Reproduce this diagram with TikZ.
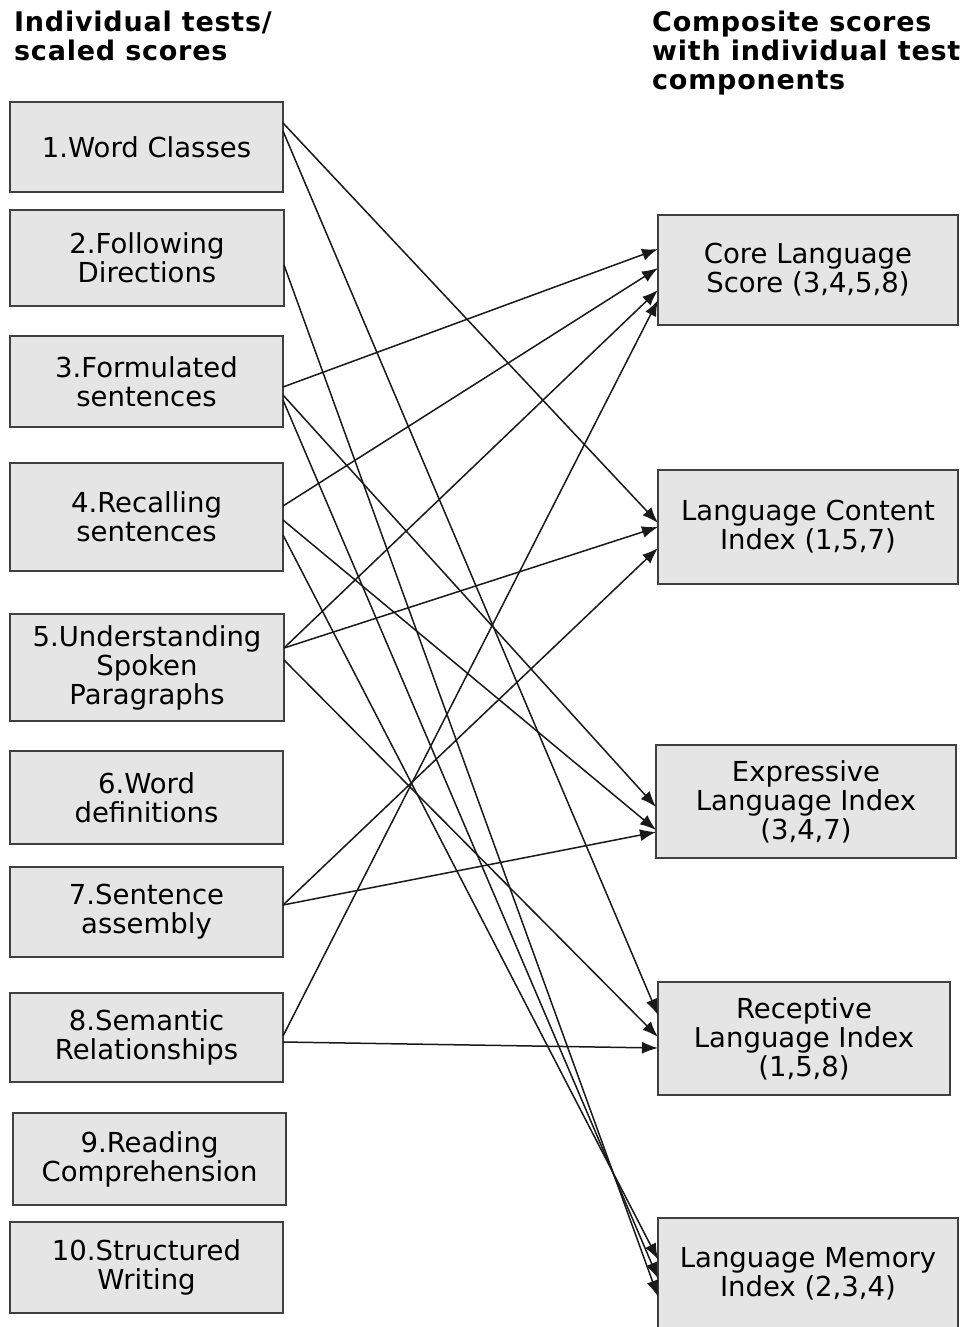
\documentclass[tikz,border=0pt]{standalone}
\usepackage{fontspec}
\setmainfont{DejaVu Sans}
\usetikzlibrary{arrows.meta}

\begin{document}
\begin{tikzpicture}[x=1pt,y=-1pt,>={Latex[length=16pt,width=12pt]},
    font=\fontsize{27.5}{29}\selectfont,
    test/.style={draw=black!75,line width=1.6pt,fill=black!10,align=center,
        minimum width=273pt,inner sep=2pt,outer sep=0pt},
    comp/.style={test,minimum width=300pt},
    head/.style={anchor=north west,align=left,inner sep=0pt,
        font=\fontsize{27}{29}\selectfont\bfseries\addfontfeatures{LetterSpace=2.8}},
    link/.style={->,line width=1.5pt,black!90}]
\useasboundingbox (0,0) rectangle (962,1327);
\node[head] (lefthead) at (14,11) {Individual tests/\\scaled scores};
\node[head] (righthead) at (652,11) {Composite scores\\with individual test\\components};
% individual tests
\node[test,minimum height=90pt] (t1) at (146.5,147) {1.Word Classes};
\node[test,minimum height=96pt,minimum width=274pt] (t2) at (147,258) {2.Following\\Directions};
\node[test,minimum height=91pt] (t3) at (146.5,381.5) {3.Formulated\\sentences};
\node[test,minimum height=108pt] (t4) at (146.5,517) {4.Recalling\\sentences};
\node[test,minimum height=107pt,minimum width=274pt] (t5) at (147,667.5) {5.Understanding\\Spoken\\Paragraphs};
\node[test,minimum height=93pt] (t6) at (146.5,797.5) {6.Word\\definitions};
\node[test,minimum height=90pt] (t7) at (146.5,912) {7.Sentence\\assembly};
\node[test,minimum height=89pt] (t8) at (146.5,1037.5) {8.Semantic\\Relationships};
\node[test,minimum height=92pt] (t9) at (149.5,1159) {9.Reading\\Comprehension};
\node[test,minimum height=91pt] (t10) at (146.5,1267.5) {10.Structured\\Writing};
% composite scores
\node[comp,minimum height=110pt] (core) at (808,270) {Core Language\\Score (3,4,5,8)};
\node[comp,minimum height=114pt] (content) at (808,527) {Language Content\\Index (1,5,7)};
\node[comp,minimum height=113pt] (expr) at (806,801.5) {Expressive\\Language Index\\(3,4,7)};
\node[comp,minimum height=113pt,minimum width=292pt] (recep) at (804,1038.5) {Receptive\\Language Index\\(1,5,8)};
\node[comp,minimum height=112pt] (memory) at (808,1274) {Language Memory\\Index (2,3,4)};
% components
\draw[link] ([yshift=24pt]t1.east) -- ([yshift=4pt]content.west);
\draw[link] ([yshift=16pt]t1.east) -- ([yshift=23.5pt]recep.west);
\draw[link] ([yshift=-7pt]t2.east) -- ([yshift=-22.5pt]memory.west);
\draw[link] ([yshift=-5.5pt]t3.east) -- ([yshift=21pt]core.west);
\draw[link] ([yshift=-13.5pt]t3.east) -- ([yshift=-5.5pt]expr.west);
\draw[link] ([yshift=-18.5pt]t3.east) -- ([yshift=-4.5pt]memory.west);
\draw[link] ([yshift=11pt]t4.east) -- ([yshift=2pt]core.west);
\draw[link] ([yshift=-3pt]t4.east) -- ([yshift=-28.5pt]expr.west);
\draw[link] ([yshift=-18pt]t4.east) -- ([yshift=14.5pt]memory.west);
\draw[link] ([yshift=19.5pt]t5.east) -- ([yshift=-20pt]core.west);
\draw[link] ([yshift=19.5pt]t5.east) -- (content.west);
\draw[link] ([yshift=7.5pt]t5.east) -- ([yshift=1.5pt]recep.west);
\draw[link] ([yshift=7pt]t7.east) -- ([yshift=-21pt]content.west);
\draw[link] ([yshift=7pt]t7.east) -- ([yshift=-30.5pt]expr.west);
\draw[link] ([yshift=1.5pt]t8.east) -- ([yshift=-30pt]core.west);
\draw[link] ([yshift=-4.5pt]t8.east) -- ([yshift=-9.5pt]recep.west);
\end{tikzpicture}
\end{document}
